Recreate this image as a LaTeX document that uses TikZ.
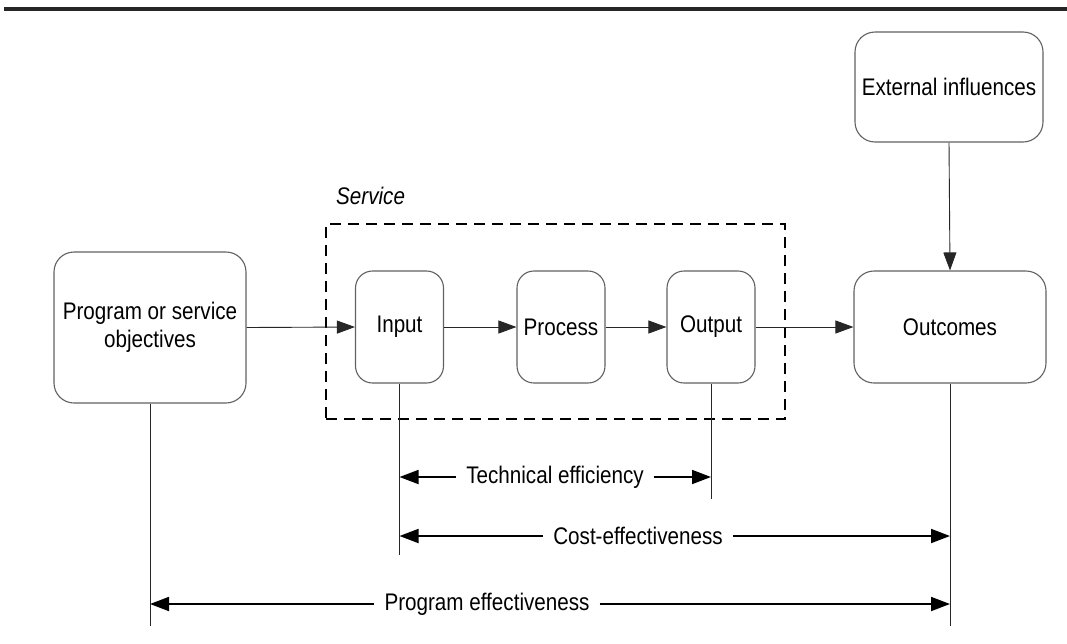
\documentclass[tikz,border=0pt]{standalone}
\usepackage{fontspec}
\setmainfont{Liberation Sans}[FakeStretch=0.86]
\usetikzlibrary{arrows.meta}
\begin{document}
\begin{tikzpicture}[x=1pt,y=-1pt,
  box/.style={draw=black!62,line width=1.1pt,rounded corners=20pt,align=center,inner sep=0pt,
    font=\fontsize{24}{28}\selectfont},
  smallbox/.style={box,rounded corners=17pt,minimum width=88pt,minimum height=112pt},
  conn/.style={line width=0.9pt,draw=black!85,-{Triangle[length=18pt,width=13pt]}},
  dimline/.style={line width=1.8pt,-{Triangle[length=19pt,width=14pt]}},
  leg/.style={line width=1pt,draw=black!85},
  lbl/.style={font=\fontsize{24}{27}\selectfont,inner sep=10pt}]
\useasboundingbox (0,0) rectangle (1067,643);
% top rule
\coordinate (r1) at (4,9);
\coordinate (r2) at (1067,9);
\draw[line width=3.5pt,black!85] (r1) -- (r2);
% service frame
\node[draw,line width=2.3pt,dash pattern=on 11pt off 7pt,minimum width=459pt,minimum height=195pt,inner sep=0pt] (service) at (555.5,321.5) {};
\node[font=\fontsize{24}{27}\selectfont\itshape,anchor=base west,inner sep=0pt] (servlbl) at (336,204) {Service};
% boxes
\node[box,minimum width=192pt,minimum height=151pt] (prog) at (150,327.5) {Program or service\\objectives};
\node[smallbox] (input) at (399.5,327) {Input};
\node[smallbox] (process) at (561,327) {Process};
\node[smallbox] (output) at (711,327) {Output};
\node[box,minimum width=192pt,minimum height=112pt] (outcomes) at (950,327) {Outcomes};
\node[box,minimum width=188pt,minimum height=110pt] (ext) at (949,87) {External influences};
% flow connectors
\draw[conn] (prog.east) -- (input.west);
\draw[conn] (input.east) -- (process.west);
\draw[conn] (process.east) -- (output.west);
\draw[conn] (output.east) -- (outcomes.west);
\draw[conn] (ext.south) -- (outcomes.north);
% labels for dimensions
\node[lbl] (tech) at (555,477) {Technical efficiency};
\node[lbl] (cost) at (638,536) {Cost-effectiveness};
\node[lbl] (progeff) at (487,604) {Program effectiveness};
% extension legs
\coordinate (inbot) at (399.5,555);
\coordinate (outbot) at (711,499);
\coordinate (ocbot) at (950,626);
\coordinate (pgbot) at (150,626);
\draw[leg] (input.south) -- (inbot);
\draw[leg] (output.south) -- (outbot);
\draw[leg] (outcomes.south) -- (ocbot);
\draw[leg] (prog.south) -- (pgbot);
% dimension arrows
\draw[dimline] (tech.west) -- (input.south |- tech);
\draw[dimline] (tech.east) -- (output.south |- tech);
\draw[dimline] (cost.west) -- (input.south |- cost);
\draw[dimline] (cost.east) -- (outcomes.south |- cost);
\draw[dimline] (progeff.west) -- (prog.south |- progeff);
\draw[dimline] (progeff.east) -- (outcomes.south |- progeff);
\end{tikzpicture}
\end{document}
